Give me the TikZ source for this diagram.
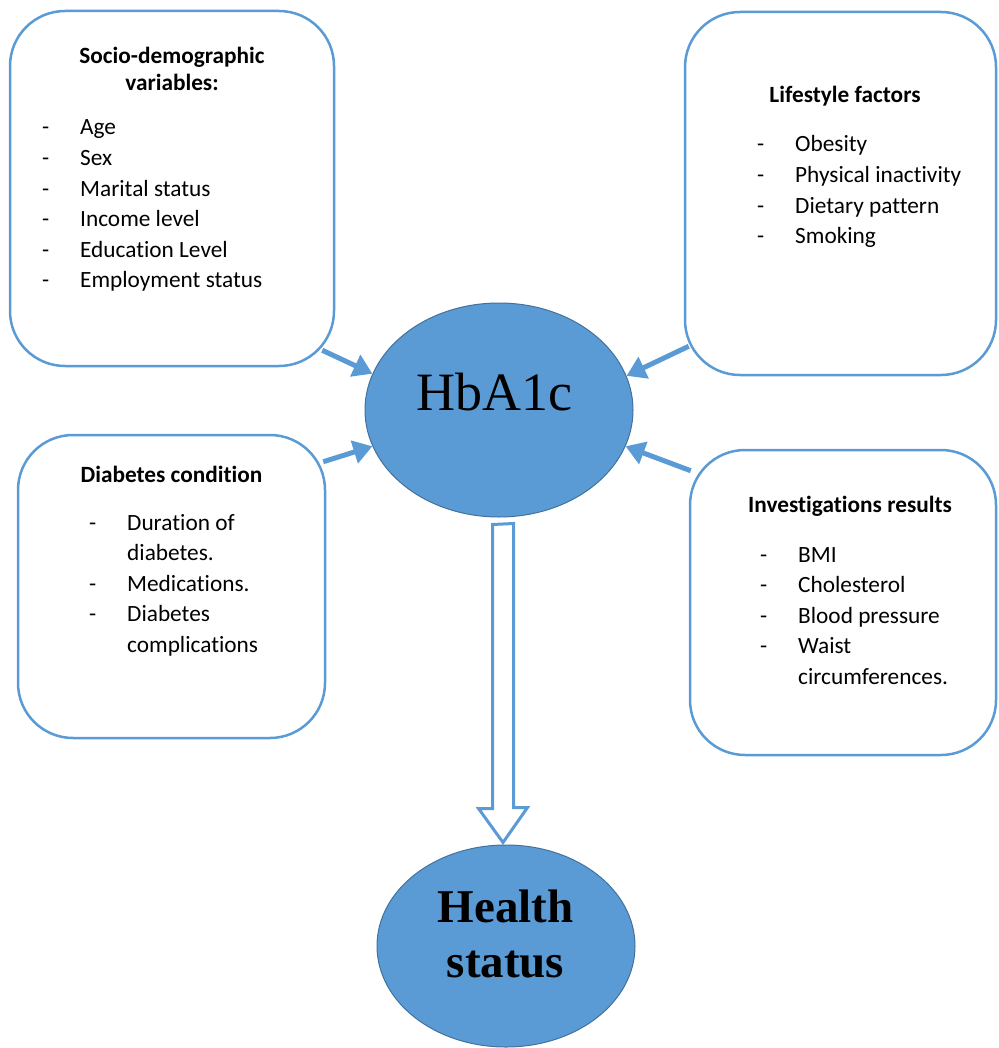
\documentclass[tikz,border=0pt]{standalone}
\usepackage{fontspec}
\setmainfont{Carlito}[Ligatures=NoCommon]
\newfontfamily\timesfont{Liberation Serif}
\usepackage{xcolor}
\usetikzlibrary{calc}
\usetikzlibrary{shapes.geometric}
\usetikzlibrary{arrows.meta}
\definecolor{boxblue}{RGB}{91,155,213}
\definecolor{rimblue}{RGB}{65,113,156}
\newcommand{\itemlist}[1]{\fontsize{23.3}{30.6}\selectfont\begin{tabular}[t]{@{}p{38pt}@{}l@{}}#1\end{tabular}}

\begin{document}
\begin{tikzpicture}[x=1pt,y=-1pt,
		factor/.style={draw=boxblue,line width=2.5pt,rounded corners=55pt,fill=white},
		core/.style={ellipse,draw=rimblue,line width=1pt,fill=boxblue,inner sep=0pt},
		heading/.style={anchor=base,inner sep=0pt,font=\fontsize{23.3}{27}\selectfont\bfseries},
		items/.style={anchor=base west,inner sep=0pt},
		feed/.style={draw=boxblue,line width=5pt,-{Triangle[length=19pt,width=23pt]}},
		hollow/.style={draw=boxblue,line width=3pt,fill=white,line join=miter}]
		\useasboundingbox (0,0) rectangle (998,1048);
		\node[factor,minimum width=324pt,minimum height=355pt] (socio) at (172,188.5) {};
		\node[factor,minimum width=311pt,minimum height=363pt] (lifestyle) at (840.5,193.5) {};
		\node[factor,minimum width=307pt,minimum height=303pt] (diabetes) at (171.5,586.5) {};
		\node[factor,minimum width=306pt,minimum height=305pt] (invest) at (843,602.5) {};
		\node[core,minimum width=268pt,minimum height=214pt] (hba) at (499,410) {};
		\node[core,minimum width=258pt,minimum height=202pt] (health) at (506,946) {};
		\node[heading] (sociohead) at (172,64) {\begin{tabular}[t]{@{}c@{}}Socio-demographic\\ variables:\end{tabular}};
		\node[items] (socioitems) at (42,135) {\itemlist{-&Age\\ -&Sex\\ -&Marital status\\ -&Income level\\ -&Education Level\\ -&Employment status}};
		\node[heading] (lifehead) at (845,103) {Lifestyle factors};
		\node[items] (lifeitems) at (757,152) {\itemlist{-&Obesity\\ -&Physical inactivity\\ -&Dietary pattern\\ -&Smoking}};
		\node[heading] (diabhead) at (171.5,482) {Diabetes condition};
		\node[items] (diabitems) at (89,530) {\itemlist{-&Duration of\\ &diabetes.\\ -&Medications.\\ -&Diabetes\\ &complications}};
		\node[heading] (investhead) at (850,512) {Investigations results};
		\node[items] (investitems) at (760,562) {\itemlist{-&BMI\\ -&Cholesterol\\ -&Blood pressure\\ -&Waist\\ &circumferences.}};
		\node[anchor=base,inner sep=0pt,font=\timesfont\fontsize{54}{60}\selectfont] (hbalabel) at (494.5,410) {HbA1c};
		\node[anchor=base,inner sep=0pt,font=\timesfont\bfseries\fontsize{47}{55}\selectfont] (healthlabel) at (505.5,922) {\begin{tabular}[t]{@{}c@{}}Health\\ status\end{tabular}};
		\draw[feed] ($(socio.south east)+(-13,-17)$) -- (hba.164);
		\draw[feed] ($(diabetes.north east)+(-3,28)$) -- (hba.196);
		\draw[feed] ($(lifestyle.south west)+(5,-30)$) -- (hba.15);
		\draw[feed] ($(invest.north west)+(2,22)$) -- (hba.344);
		\draw[hollow] ($(hba.south)+(-6.5,7)$) -- ++(0,284) -- ++(-14,0) -- ($(health.north)+(-3,-2)$) -- ++(24.5,-35) -- ++(-14,0) -- ++(0,-284) -- cycle;
	\end{tikzpicture}
\end{document}
